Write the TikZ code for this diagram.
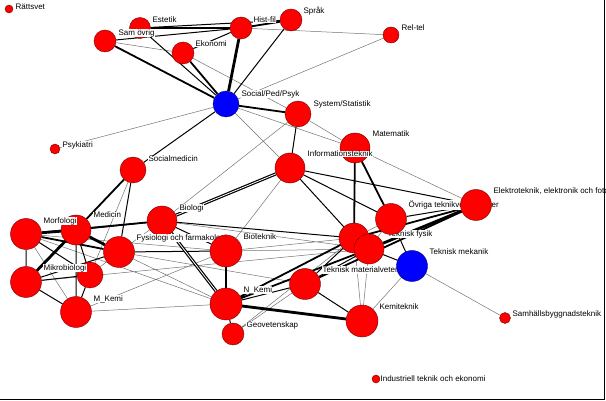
\documentclass[tikz,border=0pt]{standalone}
\usepackage{fontspec}
\setmainfont{Liberation Sans}
\usetikzlibrary{positioning}
\pgfdeclarelayer{bg}
\pgfsetlayers{bg,main}

\tikzset{
  vx/.style={circle, fill=red, draw=red!45!black, line width=0.4pt, inner sep=0pt},
  vb/.style={vx, fill=blue, draw=blue!45!black},
  lab/.style={fill=white, inner sep=0.4pt, anchor=west, font=\fontsize{8}{9}\selectfont},
  e1/.style={draw=black!55, line width=0.5pt},
  e2/.style={draw=black, line width=1pt},
  e3/.style={draw=black, line width=1.8pt},
  e4/.style={draw=black, line width=2.8pt},
  e2d/.style={draw=black, line width=1.2pt, double=white, double distance=0.8pt}
}

\begin{document}
\begin{tikzpicture}[x=1pt, y=-1pt]

    \clip (0,0) rectangle (606,401);

    % Top group
    \node[vx, minimum size=8pt] (ratt) at (9,9) {};
    \node[lab] at (15,7) {Rättsvet};
    \node[vx, minimum size=21pt] (estet) at (140,28) {};
    \node[lab] at (152,20) {Estetik};
    \node[vx, minimum size=22pt] (samov) at (105,41) {};
    \node[lab] at (118,33) {Sam övrig};
    \node[vx, minimum size=22pt] (hist) at (241,28) {};
    \node[lab] at (253,20) {Hist-fil};
    \node[vx, minimum size=22pt] (sprak) at (291,20) {};
    \node[lab] at (303,11) {Språk};
    \node[vx, minimum size=22pt] (ekon) at (183,53) {};
    \node[lab] at (195,44) {Ekonomi};
    \node[vx, minimum size=16pt] (reltel) at (391,35) {};
    \node[lab] at (401,28) {Rel-tel};
    \node[vb, minimum size=26pt] (soc) at (226,104) {};
    \node[lab] at (241,94) {Social/Ped/Psyk};
    \node[vx, minimum size=26pt] (syst) at (298,114) {};
    \node[lab] at (313,104) {System/Statistik};
    \node[vx, minimum size=30pt] (mat) at (355,148) {};
    \node[lab] at (372,134) {Matematik};
    \node[vx, minimum size=30pt] (info) at (290,168) {};
    \node[lab] at (307,154) {Informationsteknik};

    % Medicine group
    \node[vx, minimum size=10pt] (psyk) at (55,149) {};
    \node[lab] at (62,145) {Psykiatri};
    \node[vx, minimum size=26pt] (socmed) at (133,170) {};
    \node[lab] at (148,159) {Socialmedicin};
    \node[vx, minimum size=30pt] (bio) at (162,221) {};
    \node[lab] at (179,208) {Biologi};
    \node[vx, minimum size=30pt] (medi) at (76,230) {};
    \node[lab] at (93,215) {Medicin};
    \node[vx, minimum size=31pt] (morf) at (26,234) {};
    \node[lab] at (43,221) {Morfologi};
    \node[vx, minimum size=26pt] (uA) at (90,275) {};
    \node[vx, minimum size=31pt] (mikro) at (26,282) {};
    \node[lab] at (43,268) {Mikrobiologi};
    \node[vx, minimum size=31pt] (mkemi) at (76,312) {};
    \node[lab] at (93,299) {M\_Kemi};
    \node[vx, minimum size=31pt] (fys) at (119,252) {};
    \node[lab] at (136,238) {Fysiologi och farmakologi};
    \node[vx, minimum size=32pt] (biotek) at (226,251) {};
    \node[lab] at (243,237) {Bioteknik};

    % Technology group
    \node[vx, minimum size=32pt] (nkemi) at (226,304) {};
    \node[lab] at (243,290) {N\_Kemi};
    \node[vx, minimum size=22pt] (geo) at (233,334) {};
    \node[lab] at (246,325) {Geovetenskap};
    \node[vx, minimum size=31pt] (tmat) at (305,284) {};
    \node[lab] at (322,270) {Teknisk materialvetenskap};
    \node[vx, minimum size=30pt] (uB) at (354,238) {};
    \node[vx, minimum size=30pt] (tfys) at (369,249) {};
    \node[lab] at (387,234) {Teknisk fysik};
    \node[vx, minimum size=31pt] (ovr) at (391,219) {};
    \node[lab] at (408,205) {Övriga teknikvetenskaper};
    \node[vb, minimum size=31pt] (tmek) at (412,266) {};
    \node[lab] at (429,252) {Teknisk mekanik};
    \node[vx, minimum size=31pt] (elek) at (476,205) {};
    \node[lab] at (493,191) {Elektroteknik, elektronik och fotonik};
    \node[vx, minimum size=32pt] (kemtek) at (362,321) {};
    \node[lab] at (379,307) {Kemiteknik};
    \node[vx, minimum size=11pt] (samh) at (505,318) {};
    \node[lab] at (512,314) {Samhällsbyggnadsteknik};
    \node[vx, minimum size=8pt] (indek) at (376,379) {};
    \node[lab] at (380,379) {Industriell teknik och ekonomi};

    % Links
    \begin{pgfonlayer}{bg}
    \draw[e1] (samov) -- (ekon) (ekon) -- (syst) (hist) -- (reltel) (reltel) -- (soc)
              (soc) -- (mat) (soc) -- (info) (soc) -- (psyk) (syst) -- (mat)
              (syst) -- (bio) (mat) -- (elek) (info) -- (biotek)
              (socmed) -- (uA) (socmed) -- (mikro) (morf) -- (mkemi) (morf) -- (nkemi)
              (morf) -- (biotek) (mikro) -- (tfys) (uA) -- (fys) (fys) -- (bio)
              (fys) -- (nkemi) (fys) -- (tmat) (mkemi) -- (nkemi) (mkemi) -- (biotek)
              (bio) -- (tfys) (biotek) -- (uB) (biotek) -- (tfys) (geo) -- (tmat)
              (geo) -- (uB) (kemtek) -- (uB) (kemtek) -- (tfys) (kemtek) -- (tmek)
              (uB) -- (ovr) (ovr) -- (tfys) (tmek) -- (samh);
    \draw[e2] (estet) -- (sprak) (samov) -- (hist) (estet) -- (soc) (ekon) -- (hist)
              (sprak) -- (soc) (soc) -- (socmed) (syst) -- (info) (info) -- (uB)
              (info) -- (ovr) (info) -- (elek) (socmed) -- (fys) (morf) -- (mikro)
              (morf) -- (uA) (medi) -- (uA) (medi) -- (mkemi) (medi) -- (bio)
              (mikro) -- (mkemi) (mikro) -- (uA) (mikro) -- (fys) (uA) -- (mkemi)
              (fys) -- (biotek) (bio) -- (biotek) (bio) -- (uB) (nkemi) -- (geo)
              (nkemi) -- (tmat) (tmat) -- (uB) (tmat) -- (tfys) (tmat) -- (kemtek)
              (uB) -- (tfys) (tfys) -- (tmek) (ovr) -- (elek) (ovr) -- (tmek);
    \draw[e3] (estet) -- (hist) (samov) -- (soc) (ekon) -- (soc) (hist) -- (sprak)
              (soc) -- (syst) (mat) -- (uB) (mat) -- (ovr) (socmed) -- (medi)
              (morf) -- (fys) (morf) -- (bio) (biotek) -- (nkemi) (nkemi) -- (uB)
              (nkemi) -- (tfys) (tmat) -- (elek) (uB) -- (elek);
    \draw[e4] (hist) -- (soc) (morf) -- (medi) (medi) -- (mikro)
              (medi) -- (fys) (nkemi) -- (kemtek) (tfys) -- (elek);
    \draw[e2d] (info) -- (bio) (bio) -- (nkemi);
    \end{pgfonlayer}

    % Window frame
    \draw[line width=1.5pt] (604.5,0) -- (604.5,399.5) -- (0,399.5);

\end{tikzpicture}
\end{document}
